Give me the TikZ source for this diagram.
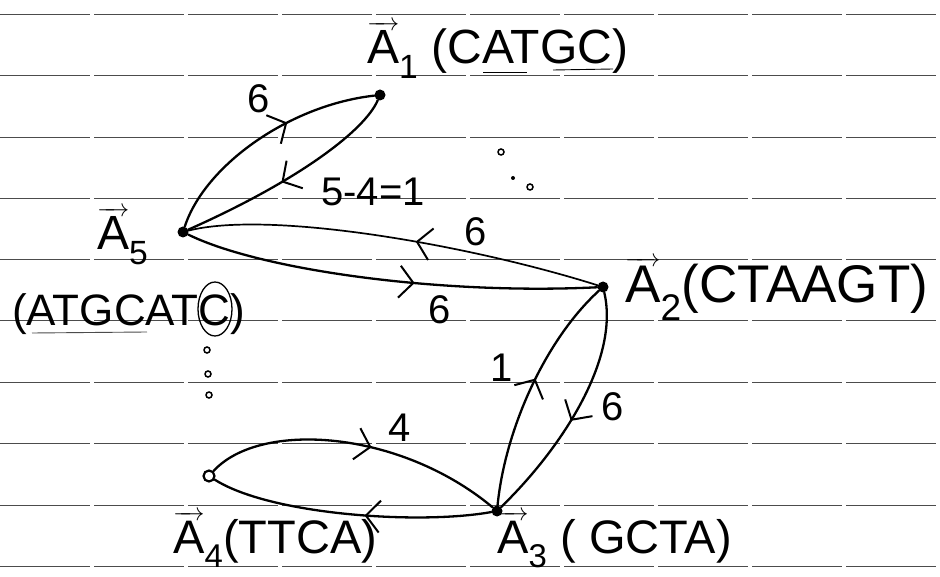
\documentclass[tikz,border=0pt]{standalone}
\usepackage{amsmath}
\usepackage{fontspec}
\setmainfont{Liberation Sans}
\usetikzlibrary{arrows.meta,decorations.markings}
\newcommand{\vA}[1]{$\overrightarrow{\text{A}}_{\text{#1}}$}
\tikzset{
  ruled/.style={draw=black!70, line width=1pt, dash pattern=on 90pt off 4pt},
  edge/.style={line width=2.3pt, line cap=round},
  thinedge/.style={line width=1.7pt, line cap=round},
  dotnode/.style={circle, fill=black, inner sep=0pt, minimum size=11pt},
  opendot/.style={circle, draw=black, line width=2.2pt, inner sep=0pt, minimum size=11pt},
  speck/.style={circle, draw=black, line width=1.5pt, inner sep=0pt, minimum size=6pt},
  lab/.style={inner sep=0pt, anchor=base west},
  num/.style={font=\fontsize{40}{48}\selectfont, inner sep=0pt},
  midarr/.style={postaction={decorate,decoration={markings,
      mark=at position #1 with {\arrow[line width=2pt]{Straight Barb[length=14pt,width=32pt]}}}}}
}
\begin{document}
\begin{tikzpicture}[x=1pt,y=-1pt]
\fill[white] (0,0) rectangle (940,577);
\useasboundingbox (0,0) rectangle (940,577);
% ruled paper lines
\foreach \yy in {15,76,138,199,260,321,382,443,505,566}
  \draw[ruled] (0,\yy) -- (940,\yy);

% vertices
\node[dotnode] (a1) at (380,95) {};
\node[dotnode] (a5) at (183,232) {};
\node[dotnode] (a2) at (603,287) {};
\node[dotnode] (a3) at (497,511) {};
\node[opendot] (a4) at (209,476) {};

% labels of vertices
\node[lab, font=\fontsize{48}{56}\selectfont] (l1) at (367,64) {\vA{1} (CATGC)};
\node[lab, font=\fontsize{48}{56}\selectfont] (l5) at (97,250) {\vA{5}};
\node[lab, font=\fontsize{53}{60}\selectfont] (l2) at (625,303) {\vA{2}(CTAAGT)};
\node[lab, font=\fontsize{44}{52}\selectfont] (l5s) at (12,326) {(ATGCATC)};
\node[lab, font=\fontsize{47}{56}\selectfont] (l4) at (173,553) {\vA{4}(TTCA)};
\node[lab, font=\fontsize{47}{56}\selectfont] (l3) at (497,553) {\vA{3} ( GCTA)};

% underlines and circled C
\draw[line width=0.9pt] (483,72) -- (527,72);
\draw[line width=0.9pt] (553,70) -- (613,69);
\draw[line width=0.9pt, black!70] (32,333) -- (147,332);
\draw[line width=1.3pt] (215,309) ellipse [x radius=17pt, y radius=27pt];

% edges
\draw[edge, midarr=0.62] (a5) .. controls (205,165) and (290,105) .. (a1);
\draw[edge, midarr=0.55] (a1) .. controls (365,130) and (300,180) .. (a5);
\draw[thinedge, midarr=0.45] (a2) .. controls (470,245) and (270,210) .. (a5);
\draw[edge, midarr=0.56] (a5) .. controls (260,270) and (440,295) .. (a2);
\draw[edge, midarr=0.55] (a3) .. controls (505,430) and (545,340) .. (a2);
\draw[edge, midarr=0.55] (a2) .. controls (620,360) and (560,450) .. (a3);
\draw[edge, midarr=0.55] (a4) .. controls (260,420) and (400,430) .. (a3);
\draw[edge, midarr=0.45] (a3) .. controls (420,525) and (270,515) .. (a4);

% edge weights
\node[num] (w51) at (259,99) {6};
\node[num] (w15) at (373,192) {5-4=1};
\node[num] (w25) at (476,232) {6};
\node[num] (w52) at (440,310) {6};
\node[num] (w32) at (502,368) {1};
\node[num] (w23) at (613,407) {6};
\node[num] (w43) at (400,428) {4};

% ellipsis dots
\node[speck] (d1) at (501,152) {};
\node[circle, fill=black, inner sep=0pt, minimum size=4pt] (d2) at (513,178) {};
\node[speck] (d3) at (530,187) {};
\node[speck] (v1) at (207,350) {};
\node[speck] (v2) at (208,374) {};
\node[speck] (v3) at (209,395) {};
\end{tikzpicture}
\end{document}
